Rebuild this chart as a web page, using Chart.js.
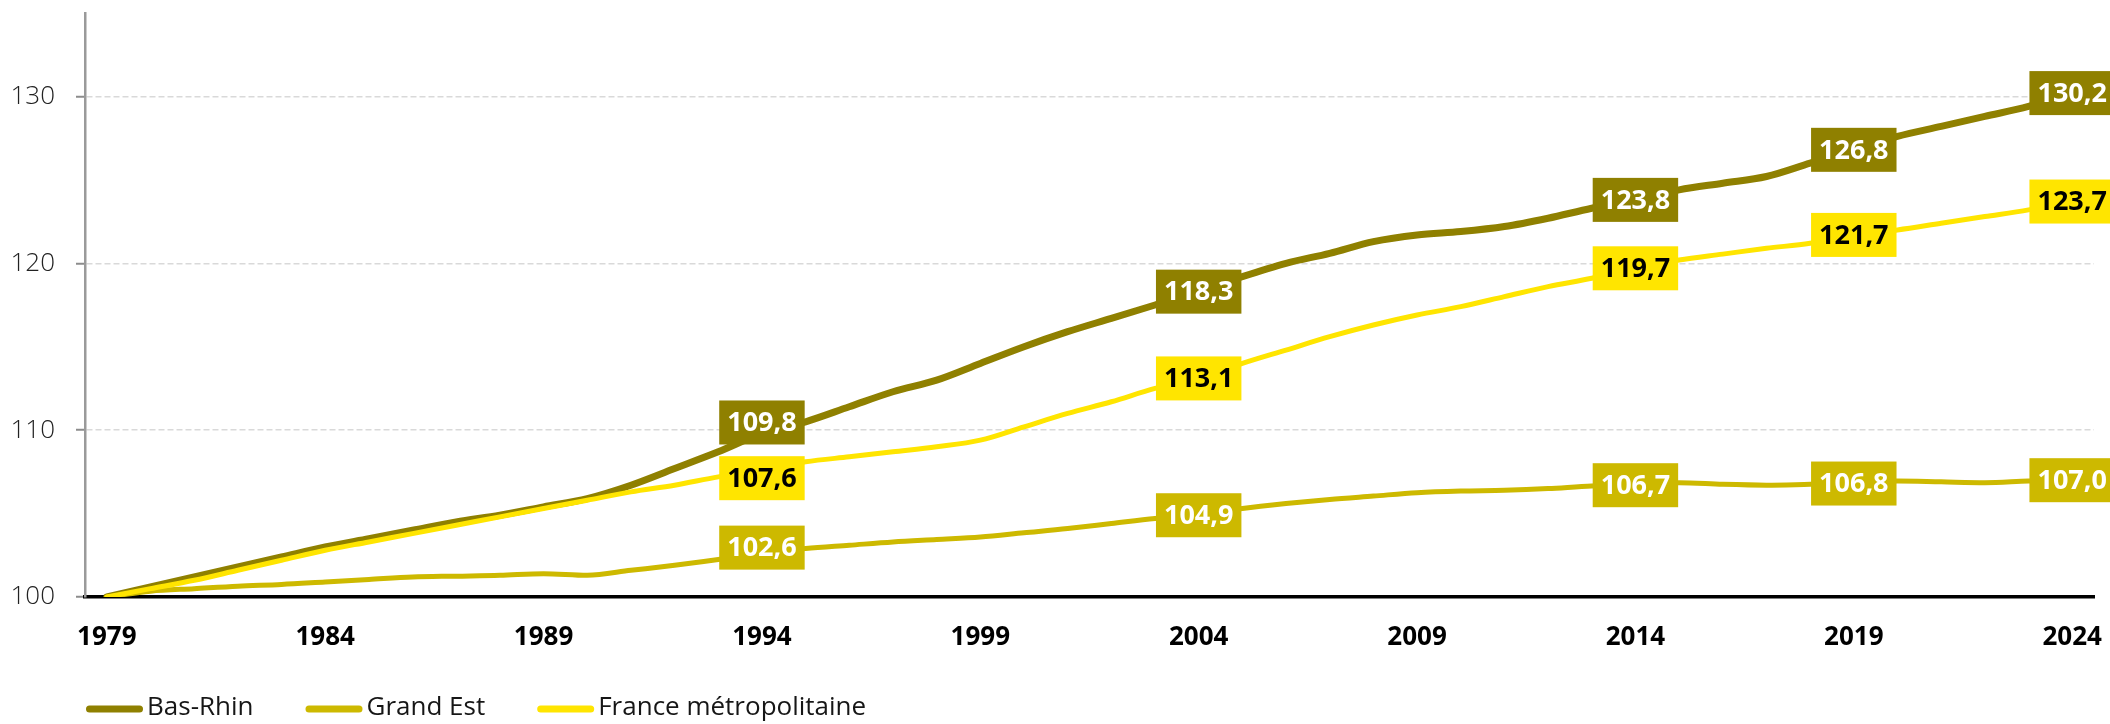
<!DOCTYPE html>
<html>
<head>
<meta charset="utf-8">
<script src="https://cdn.jsdelivr.net/npm/chart.js@4.4.1/dist/chart.umd.min.js"></script>
<style>
html,body{margin:0;padding:0;background:#fff;overflow:hidden}
canvas{display:block}
</style>
</head>
<body>
<canvas id="c" width="2110" height="724"></canvas>
<script>
// ---- data ----
const years = ['1979','1980','1981','1982','1983','1984','1985','1986','1987','1988',
  '1989','1990','1991','1992','1993','1994','1995','1996','1997','1998',
  '1999','2000','2001','2002','2003','2004','2005','2006','2007','2008',
  '2009','2010','2011','2012','2013','2014','2015','2016','2017','2018',
  '2019','2020','2021','2022','2023','2024'];

const basRhin = [100.0,100.6,101.2,101.8,102.4,103.0,103.5,104.0,104.5,104.9,
  105.4,105.9,106.7,107.7,108.7,109.8,110.5,111.4,112.3,113.0,
  114.0,115.0,115.9,116.7,117.5,118.3,119.2,120.0,120.6,121.3,
  121.7,121.9,122.2,122.7,123.3,123.8,124.4,124.8,125.2,126.0,
  126.8,127.6,128.2,128.8,129.4,130.2];

const grandEst = [100.0,100.35,100.5,100.65,100.75,100.9,101.05,101.2,101.25,101.3,
  101.4,101.3,101.6,101.9,102.25,102.6,102.9,103.1,103.3,103.45,
  103.6,103.85,104.1,104.4,104.7,104.9,105.3,105.6,105.85,106.05,
  106.25,106.35,106.4,106.5,106.65,106.7,106.85,106.75,106.7,106.75,
  106.8,106.95,106.9,106.85,106.95,107.0];

const france = [100.0,100.5,101.0,101.6,102.2,102.8,103.3,103.8,104.3,104.8,
  105.3,105.8,106.3,106.7,107.2,107.6,108.1,108.4,108.7,109.0,
  109.4,110.2,111.0,111.7,112.5,113.1,114.0,114.8,115.6,116.3,
  116.9,117.4,118.0,118.6,119.1,119.7,120.2,120.55,120.9,121.2,
  121.7,122.0,122.4,122.8,123.2,123.7];

const seriesNames = ['Bas-Rhin', 'Grand Est', 'France métropolitaine'];
const yTickValues = [100, 110, 120, 130];
const xTickLabels = ['1979','1984','1989','1994','1999','2004','2009','2014','2019','2024'];
const labelYears = ['1994','2004','2014','2019','2024'];

// ---- styles ----
const colors = ['#8f8000', '#cdb900', '#ffe500'];
const labelTextColors = ['#ffffff', '#ffffff', '#000000'];
const lineWidths = [7, 5, 5];
const labelShift = [{'1994': -11}, {'1994': -6}, {'1994': 8}]; // pixel nudges to avoid overlap

const FONT = '"Open Sans", "DejaVu Sans", sans-serif';

const valueLabels = {
  id: 'valueLabels',
  afterDatasetsDraw(chart) {
    const ctx = chart.ctx;
    ctx.save();
    ctx.font = '700 27px ' + FONT;
    ctx.textAlign = 'center';
    ctx.textBaseline = 'middle';
    chart.data.datasets.forEach((ds, di) => {
      const meta = chart.getDatasetMeta(di);
      labelYears.forEach(yr => {
        const i = chart.data.labels.indexOf(yr);
        const pt = meta.data[i];
        if (!pt) return;
        const txt = ds.data[i].toFixed(1).replace('.', ',');
        const w = ctx.measureText(txt).width + 16;
        const h = 44;
        const cy = pt.y + (labelShift[di][yr] || 0);
        ctx.fillStyle = colors[di];
        ctx.fillRect(pt.x - w / 2, cy - h / 2, w, h);
        ctx.fillStyle = labelTextColors[di];
        ctx.fillText(txt, pt.x, cy + 1);
      });
    });
    ctx.restore();
  }
};

const customLegend = {
  id: 'customLegend',
  afterDraw(chart) {
    const ctx = chart.ctx;
    ctx.save();
    ctx.font = '400 26px ' + FONT;
    ctx.textBaseline = 'middle';
    ctx.textAlign = 'left';
    let x = 86;
    const y = 708;
    chart.data.datasets.forEach((ds, di) => {
      ctx.strokeStyle = colors[di];
      ctx.lineWidth = 7;
      ctx.lineCap = 'round';
      ctx.beginPath();
      ctx.moveTo(x + 3.5, y + 1);
      ctx.lineTo(x + 53.5, y + 1);
      ctx.stroke();
      ctx.fillStyle = '#161616';
      ctx.fillText(ds.label, x + 61, y);
      x += 61 + ctx.measureText(ds.label).width + 52;
    });
    ctx.restore();
  }
};

const seriesValues = [basRhin, grandEst, france];
const drawOrder = [3, 2, 1];

new Chart(document.getElementById('c'), {
  type: 'line',
  data: {
    labels: years,
    datasets: seriesNames.map((name, i) => ({
      label: name,
      data: seriesValues[i],
      borderColor: colors[i],
      backgroundColor: colors[i],
      borderWidth: lineWidths[i],
      borderCapStyle: 'round',
      borderJoinStyle: 'round',
      pointRadius: 0,
      cubicInterpolationMode: 'monotone',
      fill: false,
      order: drawOrder[i]
    }))
  },
  options: {
    responsive: false,
    devicePixelRatio: 1,
    animation: false,
    layout: { padding: { top: 13, right: 16, left: 0, bottom: 0 } },
    plugins: {
      legend: { display: false },
      tooltip: { enabled: false },
      title: { display: false }
    },
    scales: {
      x: {
        type: 'category',
        offset: true,
        grid: { display: false, drawTicks: false },
        border: { display: true, color: '#000000', width: 3.5 },
        ticks: {
          autoSkip: false,
          maxRotation: 0,
          padding: 25,
          color: '#000000',
          font: { family: FONT, size: 26, weight: '700' },
          callback: function (val, idx) {
            const lab = this.getLabelForValue(val);
            return xTickLabels.includes(lab) ? lab : '';
          }
        },
        afterFit: s => { s.height = 127; s.paddingLeft = 0; s.paddingRight = 0; }
      },
      y: {
        min: 100,
        max: 135,
        afterBuildTicks: s => { s.ticks = yTickValues.map(v => ({ value: v })); },
        grid: {
          color: '#d9d9d9',
          lineWidth: 1.5,
          drawTicks: true,
          tickLength: 9,
          tickColor: '#8c8c8c',
          tickWidth: 2,
          tickBorderDash: []
        },
        border: { display: true, color: '#9a9a9a', width: 2.5, dash: [6, 3] },
        ticks: {
          padding: 21,
          color: '#222222',
          font: { family: FONT, size: 26, weight: '300' },
          callback: v => String(v)
        },
        afterFit: s => { s.width = 85; s.paddingTop = 0; s.paddingBottom = 0; }
      }
    }
  },
  plugins: [valueLabels, customLegend]
});
</script>
</body>
</html>
